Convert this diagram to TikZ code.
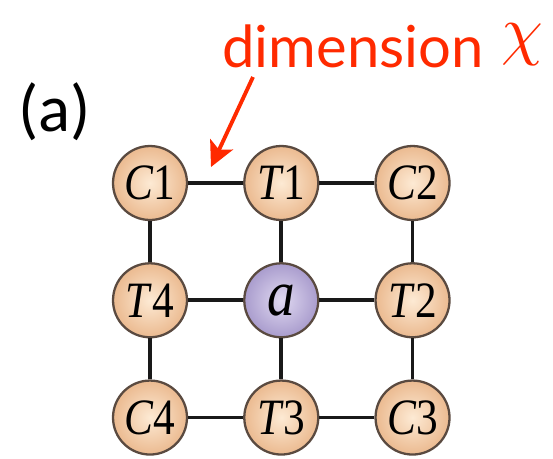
\documentclass[tikz,border=0pt]{standalone}
\usepackage{fontspec}
\usepackage{tikz}
\usetikzlibrary{positioning,arrows.meta}
\newfontfamily\fuentesans{Lato}
\newfontfamily\fuenteserif[FakeStretch=0.85]{Liberation Serif}
\newfontfamily\fuentecal{Carlito}
\definecolor{cmelon}{HTML}{EBBA90}
\definecolor{cmelonc}{HTML}{FDEAD4}
\definecolor{clila}{HTML}{A99CCD}
\definecolor{clilac}{HTML}{E0D9F1}
\definecolor{crojo}{HTML}{FF2A00}
\definecolor{cborde}{HTML}{5A4A40}
\tikzset{
  bola/.style={circle, draw=cborde, line width=1.3pt, minimum size=1.48cm, inner sep=0pt,
    inner color=cmelonc, outer color=cmelon, font=\fuenteserif\fontsize{29}{29}\selectfont},
  bolac/.style={bola, inner color=clilac, outer color=clila, font=\fuenteserif\fontsize{37}{37}\selectfont},
  enlace/.style={line width=2.1pt, draw=black!90},
  flecha/.style={-{Stealth[length=5mm,width=5mm,inset=1.2mm]}, line width=2.2pt, draw=crojo},
  etq/.style={font=\fuentesans\fontsize{33}{33}\selectfont, text=crojo, inner sep=0pt},
}
\begin{document}
\begin{tikzpicture}[x=0.02cm, y=-0.02cm, node distance=0.82cm and 1.1cm]
  \useasboundingbox (0,0) rectangle (553,458);
  % red label and arrow
  \node[etq, anchor=base west] (dim) at (222,67) {dimension};
  \node[text=crojo, inner sep=0pt, scale=3.8] (chi) at (522,45) {$\chi$};
  \node[font=\fuentecal\fontsize{38}{38}\selectfont, inner sep=0pt] (et) at (55,112) {(a)};
  % grid of tensors
  \node[bola] (c1) at (150,183) {\textit{C}1};
  \node[bola, right=of c1] (t1) {\textit{T}1};
  \node[bola, right=of t1] (c2) {\textit{C}2};
  \node[bola, below=of c1] (t4) {\textit{T}4};
  \node[bolac, below=of t1] (a) {\textit{a}};
  \node[bola, below=of c2] (t2) {\textit{T}2};
  \node[bola, below=of t4] (c4) {\textit{C}4};
  \node[bola, below=of a] (t3) {\textit{T}3};
  \node[bola, below=of t2] (c3) {\textit{C}3};
  \draw[enlace] (c1) -- (t1) -- (c2) -- (t2) -- (c3) -- (t3) -- (c4) -- (t4) -- (c1);
  \draw[enlace] (t1) -- (a) -- (t3);
  \draw[enlace] (t4) -- (a) -- (t2);
  \coordinate (cola) at (253,77);
  \coordinate (punta) at (211,167);
  \draw[flecha] (cola) -- (punta);
\end{tikzpicture}
\end{document}
